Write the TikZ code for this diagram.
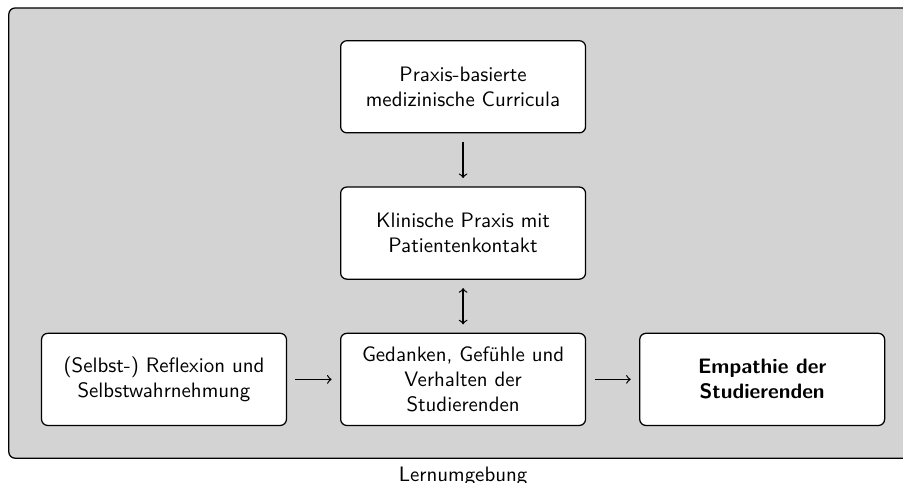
\documentclass[tikz,border=0pt]{standalone}
\usepackage{tikz}
\usetikzlibrary{positioning,fit,backgrounds}
\definecolor{envbg}{HTML}{D3D3D3}
\tikzset{
  stage/.style={draw,fill=white,rounded corners=3pt,semithick,
                minimum width=4.12cm,minimum height=1.55cm,
                align=center,font=\sffamily},
  envframe/.style={draw,fill=envbg,rounded corners=3pt,semithick,
                   inner sep=0.54cm},
  link/.style={->,semithick,shorten >=4pt,shorten <=4pt},
  linkboth/.style={<->,semithick,shorten >=4pt,shorten <=4pt},
}

\begin{document}
\begin{tikzpicture}[node distance=0.89cm]
  \useasboundingbox (-7.79,1.46) rectangle (7.40,-6.66);
  % stages of the model
  \node[stage] (curr) {Praxis-basierte\\medizinische Curricula};
  \node[stage,below=of curr] (klin) {Klinische Praxis mit\\Patientenkontakt};
  \node[stage,below=of klin] (verh) {Gedanken, Gef\"uhle und\\Verhalten der\\Studierenden};
  \node[stage,left=of verh] (refl) {(Selbst-) Reflexion und\\Selbstwahrnehmung};
  \node[stage,right=of verh,font=\sffamily\bfseries] (emp) {Empathie der\\Studierenden};
  % surrounding learning environment
  \begin{scope}[on background layer]
    \node[envframe,fit=(curr)(refl)(emp)(verh),
          label={[font=\sffamily,inner sep=3.5pt]below:Lernumgebung}] (env) {};
  \end{scope}
  % connectors
  \draw[link] (curr) -- (klin);
  \draw[linkboth] (klin) -- (verh);
  \draw[link] (refl) -- (verh);
  \draw[link] (verh) -- (emp);
\end{tikzpicture}
\end{document}
